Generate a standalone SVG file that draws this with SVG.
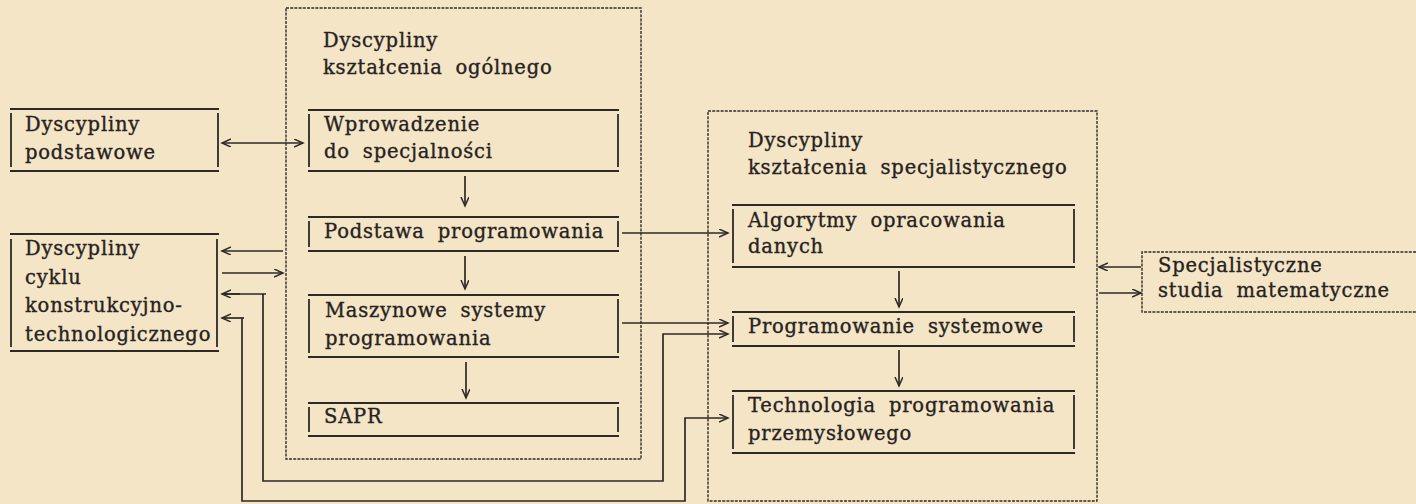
<svg xmlns="http://www.w3.org/2000/svg" width="1416" height="504" viewBox="0 0 1416 504">
<style>
.bg{fill:#f3e5c6}
.box{fill:none;stroke:#2e2925;stroke-width:1.8}
.dash{fill:none;stroke:#332e29;stroke-width:1.4;stroke-dasharray:3 1.2}
.ln{fill:none;stroke:#2e2925;stroke-width:1.7}
text{font-family:"DejaVu Serif","Liberation Serif",serif;font-size:19.5px;fill:#27221e;stroke:#27221e;stroke-width:0.35;letter-spacing:0.8px;word-spacing:6px}
</style>
<defs>
<marker id="ah" markerUnits="userSpaceOnUse" markerWidth="12" markerHeight="10" refX="9" refY="4" orient="auto-start-reverse" viewBox="0 0 12 10">
<path d="M0,0 L9,4 L0,8" fill="none" stroke="#2e2925" stroke-width="1.5"/>
</marker>
</defs>
<rect class="bg" x="0" y="0" width="1416" height="504"/>

<g id="general-container">
<rect class="dash" x="286" y="8" width="355" height="451"/>
<text x="323" y="47">Dyscypliny</text>
<text x="323" y="74">kształcenia ogólnego</text>
</g>

<g id="special-container">
<rect class="dash" x="708" y="111" width="389" height="390"/>
<text x="748" y="147">Dyscypliny</text>
<text x="748" y="174">kształcenia specjalistycznego</text>
</g>

<g id="podstawowe">
<path class="box" d="M10,109 H219 M10,171 H219 M11,113 V167 M218,113 V167"/>
<text x="25" y="131">Dyscypliny</text>
<text x="25" y="159">podstawowe</text>
</g>

<g id="cyklu">
<path class="box" d="M10,234 H219 M10,351 H219 M11,239 V347 M217,239 V347"/>
<text x="25" y="255">Dyscypliny</text>
<text x="25" y="284">cyklu</text>
<text x="25" y="312">konstrukcyjno-</text>
<text x="25" y="341">technologicznego</text>
</g>

<g id="wprowadzenie">
<path class="box" d="M308,110 H619 M308,171 H619 M309,114 V167 M618,114 V167"/>
<text x="324" y="131">Wprowadzenie</text>
<text x="324" y="158">do specjalności</text>
</g>

<g id="podstawa">
<path class="box" d="M308,217 H619 M308,251 H619 M309,221 V247 M618,221 V247"/>
<text x="324" y="238">Podstawa programowania</text>
</g>

<g id="maszynowe">
<path class="box" d="M308,295 H619 M308,357 H619 M309,299 V353 M618,299 V353"/>
<text x="325" y="317">Maszynowe systemy</text>
<text x="325" y="345">programowania</text>
</g>

<g id="sapr">
<path class="box" d="M308,403 H619 M308,436 H619 M309,407 V432 M618,407 V432"/>
<text x="324" y="423">SAPR</text>
</g>

<g id="algorytmy">
<path class="box" d="M732,205 H1075 M732,267 H1075 M733,209 V263 M1074,209 V263"/>
<text x="748" y="227">Algorytmy opracowania</text>
<text x="748" y="253">danych</text>
</g>

<g id="systemowe">
<path class="box" d="M732,312 H1075 M732,346 H1075 M733,316 V342 M1074,316 V342"/>
<text x="748" y="333">Programowanie systemowe</text>
</g>

<g id="technologia">
<path class="box" d="M732,391 H1075 M732,453 H1075 M733,395 V449 M1074,395 V449"/>
<text x="748" y="412">Technologia programowania</text>
<text x="748" y="440">przemysłowego</text>
</g>

<g id="matematyczne">
<path class="dash" d="M1416,252 H1142 V312 H1416"/>
<text x="1158" y="272">Specjalistyczne</text>
<text x="1158" y="297">studia matematyczne</text>
</g>

<g id="connectors">
<line class="ln" x1="222" y1="143" x2="303" y2="143" marker-start="url(#ah)" marker-end="url(#ah)"/>
<line class="ln" x1="283" y1="251" x2="222" y2="251" marker-end="url(#ah)"/>
<line class="ln" x1="222" y1="273" x2="283" y2="273" marker-end="url(#ah)"/>
<path class="ln" d="M222,294 H266 M263,294 V481 H663 V334 H728" marker-end="url(#ah)"/>
<line class="ln" x1="240" y1="294" x2="222" y2="294" marker-end="url(#ah)"/>
<path class="ln" d="M242,318 V501 H685 V418 H728" marker-end="url(#ah)"/>
<line class="ln" x1="244" y1="318" x2="222" y2="318" marker-end="url(#ah)"/>
<line class="ln" x1="622" y1="233" x2="728" y2="233" marker-end="url(#ah)"/>
<line class="ln" x1="622" y1="323" x2="728" y2="323" marker-end="url(#ah)"/>
<line class="ln" x1="465" y1="176" x2="465" y2="206" marker-end="url(#ah)"/>
<line class="ln" x1="465" y1="256" x2="465" y2="289" marker-end="url(#ah)"/>
<line class="ln" x1="466" y1="362" x2="466" y2="398" marker-end="url(#ah)"/>
<line class="ln" x1="899" y1="271" x2="899" y2="307" marker-end="url(#ah)"/>
<line class="ln" x1="899" y1="350" x2="899" y2="386" marker-end="url(#ah)"/>
<line class="ln" x1="1141" y1="267" x2="1099" y2="267" marker-end="url(#ah)"/>
<line class="ln" x1="1099" y1="293" x2="1141" y2="293" marker-end="url(#ah)"/>
</g>
</svg>
